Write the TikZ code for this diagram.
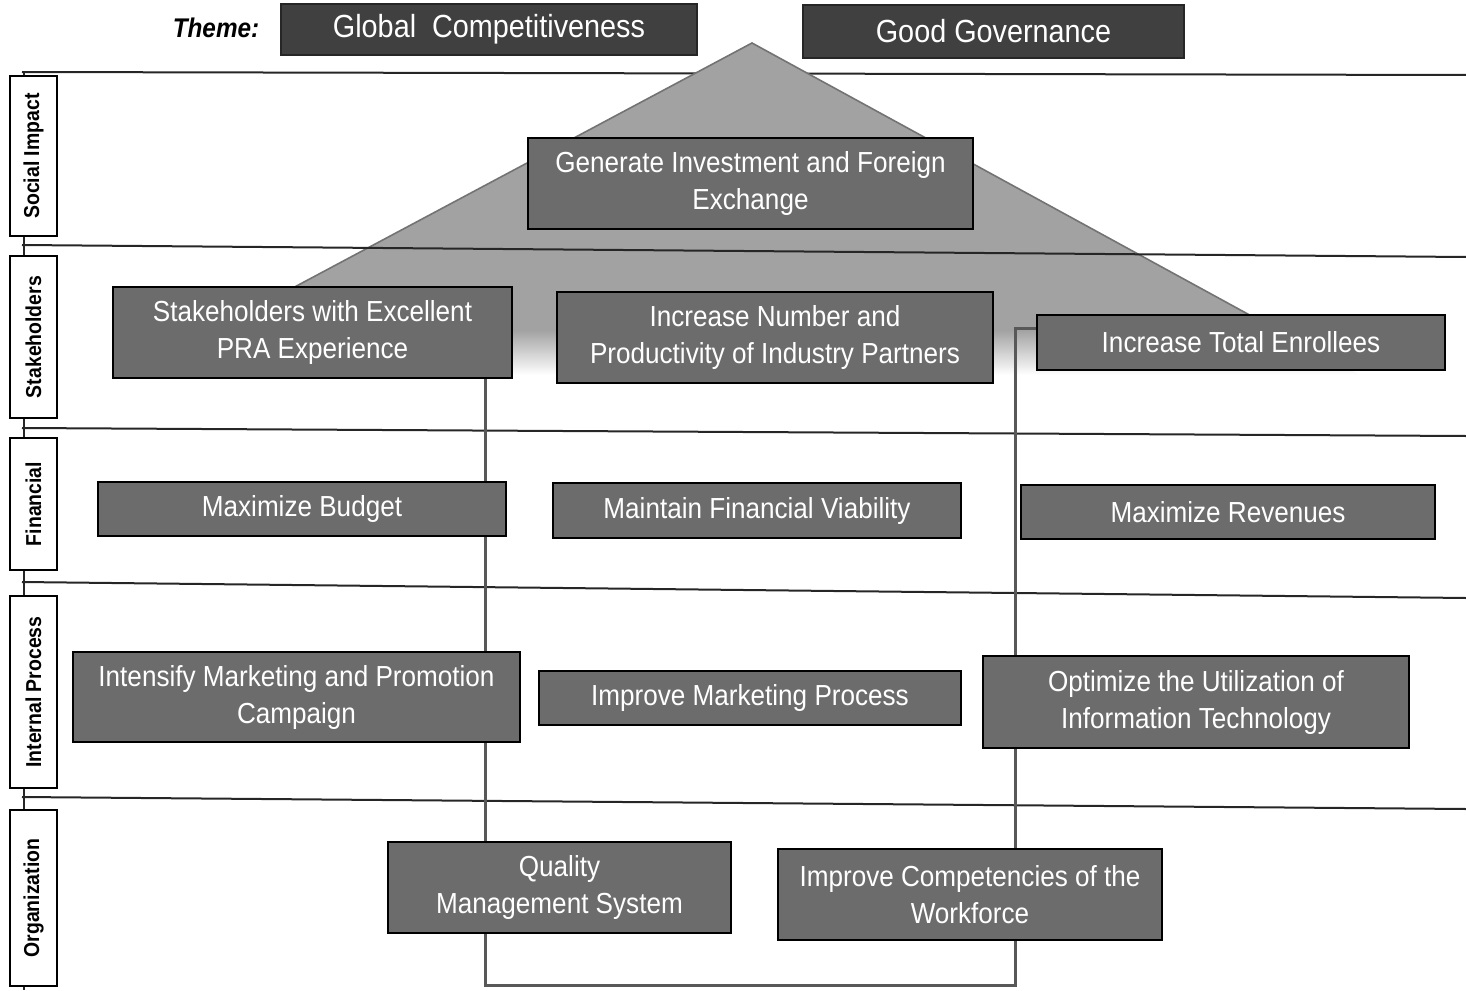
\documentclass[tikz,border=0pt]{standalone}
\usepackage{fontspec}
\setmainfont{Liberation Sans}
\newfontfamily\narrowsf[FakeStretch=0.9]{Liberation Sans}
\usetikzlibrary{backgrounds}

\definecolor{objgray}{RGB}{108,108,108}
\definecolor{themegray}{RGB}{64,64,64}
\definecolor{trigray}{RGB}{162,162,162}
\definecolor{linkgray}{RGB}{88,88,88}

\tikzset{
  objbox/.style={draw=black, line width=1.3pt, fill=objgray, text=white, align=center,
    inner sep=2pt, font=\narrowsf\fontsize{14.5}{18.5}\selectfont},
  themebox/.style={draw=black!85, line width=1pt, fill=themegray, text=white,
    inner sep=2pt, font=\narrowsf\fontsize{16}{19}\selectfont},
  perspbox/.style={draw=black, line width=1.1pt, fill=white, rotate=90,
    minimum height=23.5pt, inner sep=1pt, font=\narrowsf\bfseries\fontsize{10.8}{12}\selectfont},
  rowline/.style={line width=1pt, black!85},
  triedge/.style={line width=0.8pt, black!55},
  link/.style={line width=1.5pt, linkgray},
}

\begin{document}
\begin{tikzpicture}[x=0.5pt,y=-0.5pt]
\useasboundingbox (0,0) rectangle (1466,990);

% Theme
\node[font=\narrowsf\bfseries\itshape\fontsize{13.5}{15}\selectfont] (theme) at (216,28) {Theme:};
\node[themebox, minimum width=208pt, minimum height=25.5pt] (glob) at (489,29.5) {Global~ Competitiveness};
\node[themebox, minimum width=190.5pt, minimum height=26.5pt] (gov) at (993.5,31.5) {Good Governance};

% Perspectives
\node[perspbox, minimum width=80pt] (social) at (33.5,156) {Social Impact};
\node[perspbox, minimum width=81pt] (stakeh) at (33.5,337) {Stakeholders};
\node[perspbox, minimum width=66pt] (finan) at (33.5,504) {Financial};
\node[perspbox, minimum width=96pt] (intern) at (33.5,692) {Internal Process};
\node[perspbox, minimum width=88pt] (organ) at (33.5,898) {Organization};

% Social impact
\node[objbox, minimum width=222.5pt, minimum height=45.5pt] (gen) at (750.5,183.5) {Generate Investment and Foreign\\Exchange};

% Stakeholders
\node[objbox, minimum width=199.5pt, minimum height=45.5pt] (stake) at (312.5,332.5) {Stakeholders with Excellent\\PRA Experience};
\node[objbox, minimum width=218pt, minimum height=45.5pt] (partn) at (775,337.5) {Increase Number and\\Productivity of Industry Partners};
\node[objbox, minimum width=204pt, minimum height=27.5pt] (enrol) at (1241,342.5) {Increase Total Enrollees};

% Financial
\node[objbox, minimum width=204pt, minimum height=27pt] (budget) at (302,509) {Maximize Budget};
\node[objbox, minimum width=204pt, minimum height=27.5pt] (viab) at (757,510.5) {Maintain Financial Viability};
\node[objbox, minimum width=207pt, minimum height=27pt] (reven) at (1228,512) {Maximize Revenues};

% Internal process
\node[objbox, minimum width=223.5pt, minimum height=45pt] (promo) at (296.5,697) {Intensify Marketing and Promotion\\Campaign};
\node[objbox, minimum width=211pt, minimum height=27pt] (mproc) at (750,698) {Improve Marketing Process};
\node[objbox, minimum width=213pt, minimum height=46pt] (infot) at (1196,702) {Optimize the Utilization of\\Information Technology};

% Organization
\node[objbox, minimum width=171.5pt, minimum height=45.5pt] (qms) at (559.5,887.5) {Quality\\Management System};
\node[objbox, minimum width=192pt, minimum height=45.5pt] (workf) at (970,894.5) {Improve Competencies of the\\Workforce};

\coordinate (turnA) at (485,985);
\coordinate (turnB) at (1015,985);
\coordinate (turnC) at (1015,328);

\begin{scope}[on background layer]
  % spine and first row line
  \draw[rowline] (24,72) -- (24,990);
  \draw[rowline] (22,72) -- (1466,75);
  % roof
  \fill[trigray] (752,43) -- (214,330) -- (1277,330) -- cycle;
  \shade[top color=trigray, bottom color=white] (214,330) -- (130,375) -- (1360,375) -- (1277,330) -- cycle;
  \draw[triedge] (214,330) -- (752,43) -- (1277,330);
  % row lines
  \draw[rowline] (22,245) -- (1466,257);
  \draw[rowline] (22,428) -- (1466,436);
  \draw[rowline] (22,582) -- (1466,598);
  \draw[rowline] (22,797) -- (1466,809);
  % link
  \draw[link] (stake.south -| turnA) -- (turnA) -- (turnB) -- (turnC) -- (turnC -| enrol.west);
\end{scope}
\end{tikzpicture}
\end{document}
